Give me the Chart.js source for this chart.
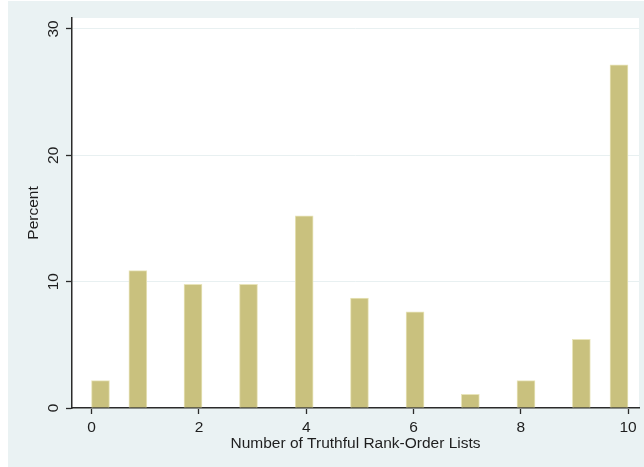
<!DOCTYPE html>
<html>
<head>
<meta charset="utf-8">
<script src="https://cdn.jsdelivr.net/npm/chart.js@4/dist/chart.umd.min.js"></script>
<style>
    html, body { margin: 0; padding: 0; background: #ffffff; }
    canvas { display: block; }
</style>
</head>
<body>
<canvas id="hist_chart" width="644" height="467"></canvas>
<script>
    // bin centres (in x units) and percent per bin
    var binCenters = [0.164, 0.861, 1.889, 2.924, 3.962, 4.993, 6.029, 7.06, 8.098, 9.13, 9.832];
    var percents = [2.17, 10.87, 9.78, 9.78, 15.22, 8.70, 7.61, 1.09, 2.17, 5.43, 27.17];
    var xTicks = [0, 2, 4, 6, 8, 10];
    var yTicks = [0, 10, 20, 30];

    var font = { family: "'Liberation Sans', Arial, sans-serif", size: 15.5 };
    var axisColor = '#2b2b2b';

    var points = binCenters.map(function (x, i) {
        return { x: x, y: percents[i] };
    });

    // Stata-like background: light bluish outer region, white plot region
    var backgroundPlugin = {
        id: 'stataBackground',
        beforeDraw: function (chart) {
            var ctx = chart.ctx;
            var area = chart.chartArea;
            ctx.save();
            ctx.fillStyle = '#ffffff';
            ctx.fillRect(0, 0, chart.width, chart.height);
            ctx.fillStyle = '#eaf2f3';
            ctx.fillRect(8, 1, chart.width - 8, chart.height - 1);
            ctx.fillStyle = '#ffffff';
            ctx.fillRect(area.left, area.top, area.right - area.left, area.bottom - area.top);
            ctx.restore();
        }
    };

    var canvas = document.getElementById('hist_chart');
    var histChart = new Chart(canvas, {
        type: 'bar',
        data: {
            datasets: [{
                label: 'Percent',
                data: points,
                backgroundColor: 'rgb(201, 193, 126)',
                borderColor: 'rgb(232, 228, 186)',
                borderWidth: 1,
                barThickness: 18,
            }]
        },
        options: {
            responsive: false,
            animation: false,
            layout: {
                padding: { top: 18, right: 5, left: 0, bottom: 0 }
            },
            plugins: {
                legend: { display: false },
                tooltip: { enabled: false }
            },
            scales: {
                x: {
                    type: 'linear',
                    offset: false,
                    min: -0.367,
                    max: 10.205,
                    afterBuildTicks: function (scale) {
                        scale.ticks = xTicks.map(function (v) { return { value: v }; });
                    },
                    afterFit: function (scale) {
                        scale.height = 59;
                    },
                    ticks: {
                        font: font,
                        color: '#1e1e1e',
                        padding: 4,
                        maxRotation: 0,
                        autoSkip: false
                    },
                    grid: {
                        offset: false,
                        drawOnChartArea: false,
                        tickLength: 6,
                        tickColor: axisColor,
                        tickWidth: 1.3
                    },
                    border: { color: axisColor, width: 1.5 },
                    title: {
                        display: true,
                        text: 'Number of Truthful Rank-Order Lists',
                        font: font,
                        color: '#1e1e1e',
                        padding: { top: 0, bottom: 14 }
                    }
                },
                y: {
                    min: 0,
                    max: 30.87,
                    afterBuildTicks: function (scale) {
                        scale.ticks = yTicks.map(function (v) { return { value: v }; });
                    },
                    afterFit: function (scale) {
                        scale.width = 72;
                    },
                    ticks: {
                        font: font,
                        color: '#1e1e1e',
                        minRotation: 90,
                        maxRotation: 90,
                        crossAlign: 'center',
                        padding: 4,
                        autoSkip: false
                    },
                    grid: {
                        color: '#e8f0f1',
                        lineWidth: 1,
                        tickLength: 6,
                        tickColor: axisColor,
                        tickWidth: 1.3
                    },
                    border: { color: axisColor, width: 1.5 },
                    title: {
                        display: true,
                        text: 'Percent',
                        font: font,
                        color: '#1e1e1e',
                        padding: { top: 24, bottom: 0 }
                    }
                }
            }
        },
        plugins: [backgroundPlugin]
    });
</script>
</body>
</html>
